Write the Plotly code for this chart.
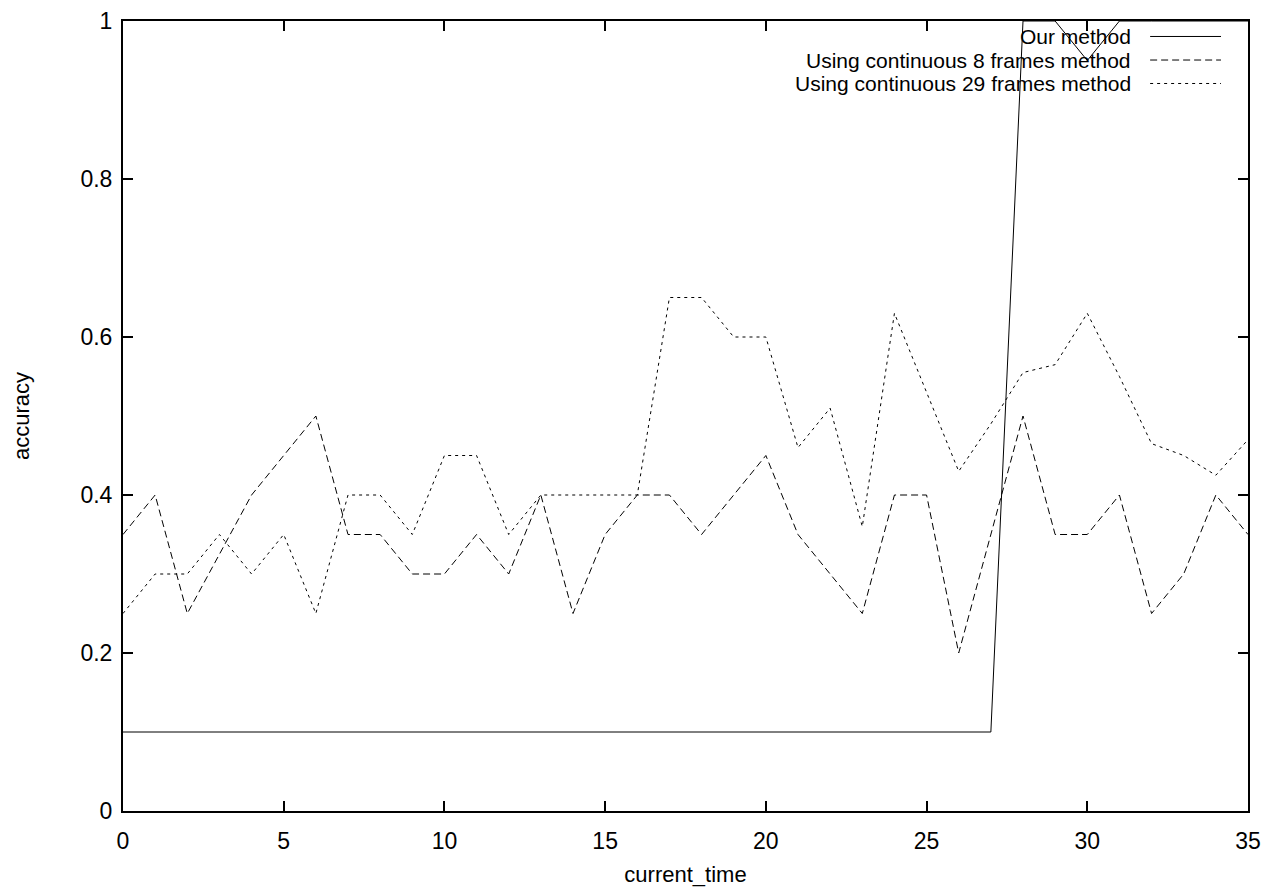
import plotly.graph_objects as go

current_time = list(range(0, 36))

our_method = [0.1] * 28 + [1.0, 1.0, 0.95, 1.0, 1.0, 1.0, 1.0, 1.0]

frames8 = [0.35, 0.40, 0.25, 0.325, 0.40, 0.45, 0.50, 0.35, 0.35, 0.30,
           0.30, 0.35, 0.30, 0.40, 0.25, 0.35, 0.40, 0.40, 0.35, 0.40,
           0.45, 0.35, 0.30, 0.25, 0.40, 0.40, 0.20, 0.35, 0.50, 0.35,
           0.35, 0.40, 0.25, 0.30, 0.40, 0.35]

frames29 = [0.25, 0.30, 0.30, 0.35, 0.30, 0.35, 0.25, 0.40, 0.40, 0.35,
            0.45, 0.45, 0.35, 0.40, 0.40, 0.40, 0.40, 0.65, 0.65, 0.60,
            0.60, 0.46, 0.51, 0.36, 0.63, 0.53, 0.43, 0.49, 0.555, 0.565,
            0.63, 0.55, 0.465, 0.45, 0.425, 0.47]

series_names = ["Our method", "Using continuous 8 frames method", "Using continuous 29 frames method"]
series_data = [our_method, frames8, frames29]
series_dash = ["solid", "7px,4px", "3px,4px"]

x_ticks = [0, 5, 10, 15, 20, 25, 30, 35]
y_ticks = [0, 0.2, 0.4, 0.6, 0.8, 1]
y_ticklabels = ["0", "0.2", "0.4", "0.6", "0.8", "1"]

FONT = "Liberation Sans, Arial, sans-serif"

fig = go.Figure()
for name, ys, dash in zip(series_names, series_data, series_dash):
    fig.add_trace(go.Scatter(x=current_time, y=ys, mode="lines", name=name,
                             line=dict(color="black", width=1, dash=dash),
                             showlegend=False))

# custom legend (text, then line sample to its right, gnuplot style)
leg_y = [0.9804, 0.9506, 0.9209]
for name, dash, yy in zip(series_names, series_dash, leg_y):
    fig.add_annotation(xref="paper", yref="paper", x=0.897, y=yy, text=name,
                       showarrow=False, xanchor="right", yanchor="middle",
                       borderpad=0,
                       font=dict(family=FONT, size=21, color="black"))
    fig.add_shape(type="line", xref="paper", yref="paper", x0=0.913, x1=0.976,
                  y0=yy, y1=yy, line=dict(color="black", width=1, dash=dash))

axis_common = dict(showline=True, linecolor="black", linewidth=2, mirror="allticks",
                   ticks="inside", ticklen=10, tickwidth=1.5, tickcolor="black",
                   showgrid=False, zeroline=False, automargin=False,
                   tickfont=dict(family=FONT, size=23, color="black"))

fig.update_xaxes(range=[0, 35], tickvals=x_ticks, ticklabelstandoff=8,
                 title=dict(text="current_time", font=dict(family=FONT, size=22, color="black"), standoff=14),
                 **axis_common)
fig.update_yaxes(range=[0, 1.0], tickvals=y_ticks, ticktext=y_ticklabels, ticklabelstandoff=4,
                 title=dict(text="accuracy", font=dict(family=FONT, size=22, color="black"), standoff=45),
                 **axis_common)

# page body has an 8px default margin, so size the figure to compensate
fig.update_layout(width=1276, height=884, plot_bgcolor="white", paper_bgcolor="white",
                  margin=dict(l=115, r=36, t=13, b=81), showlegend=False)

fig.write_html("out.html")
